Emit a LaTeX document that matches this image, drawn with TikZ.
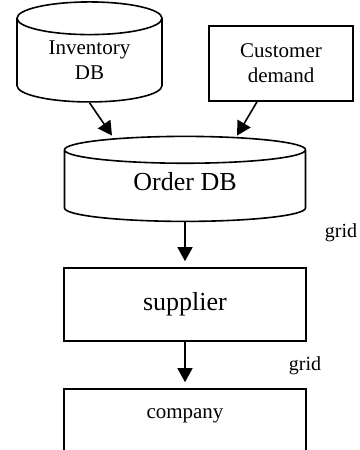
\documentclass[tikz,border=0pt]{standalone}
\usepackage{fontspec}
\setmainfont{Liberation Serif}
\usetikzlibrary{shapes.geometric,arrows.meta}
\tikzset{
  dbnode/.style={cylinder, shape border rotate=90, draw, line width=1.6pt, align=center, inner sep=0pt},
  boxnode/.style={rectangle, draw, line width=1.6pt, align=center, inner sep=0pt},
  flow/.style={-{Triangle[length=14pt,width=15pt]}, line width=1.6pt},
}
\begin{document}
\begin{tikzpicture}[x=1pt,y=-1pt]
  \useasboundingbox (0,0) rectangle (359,450);
  \clip (0,0) rectangle (359,450);

  % Define node positions
  \node[dbnode, minimum width=145pt, minimum height=100pt, aspect=0.4,
    font=\fontsize{21}{25}\selectfont] (inv) at (89.5,60.5) {Inventory\\DB};
  \node[boxnode, minimum width=144pt, minimum height=75pt,
    font=\fontsize{21}{25}\selectfont] (cust) at (281,63.5) {Customer\\demand};
  \node[dbnode, minimum width=241pt, minimum height=85pt, aspect=0.26,
    font=\fontsize{26}{30}\selectfont] (order) at (185,186) {\raisebox{10pt}{Order DB}};
  \node[boxnode, minimum width=242pt, minimum height=73pt,
    font=\fontsize{26}{30}\selectfont] (supp) at (185,304.5) {supplier};
  \node[boxnode, minimum width=242pt, minimum height=90pt] (comp) at (185,434) {};
  \node[font=\fontsize{21}{25}\selectfont] (comptext) at (185,416) {company};

  % Labels
  \node[font=\fontsize{20}{24}\selectfont] (grid1) at (341,233) {grid};
  \node[font=\fontsize{20}{24}\selectfont] (grid2) at (305,366) {grid};

  % Draw arrows
  \draw[flow] (inv.south) -- ([xshift=-73pt]order.north);
  \draw[flow] ([xshift=-24pt]cust.south) -- ([xshift=52pt]order.north);
  \draw[flow, shorten >=6pt] (order.south) -- (supp.north);
  \draw[flow, shorten >=6pt] (supp.south) -- (comp.north);
\end{tikzpicture}
\end{document}
